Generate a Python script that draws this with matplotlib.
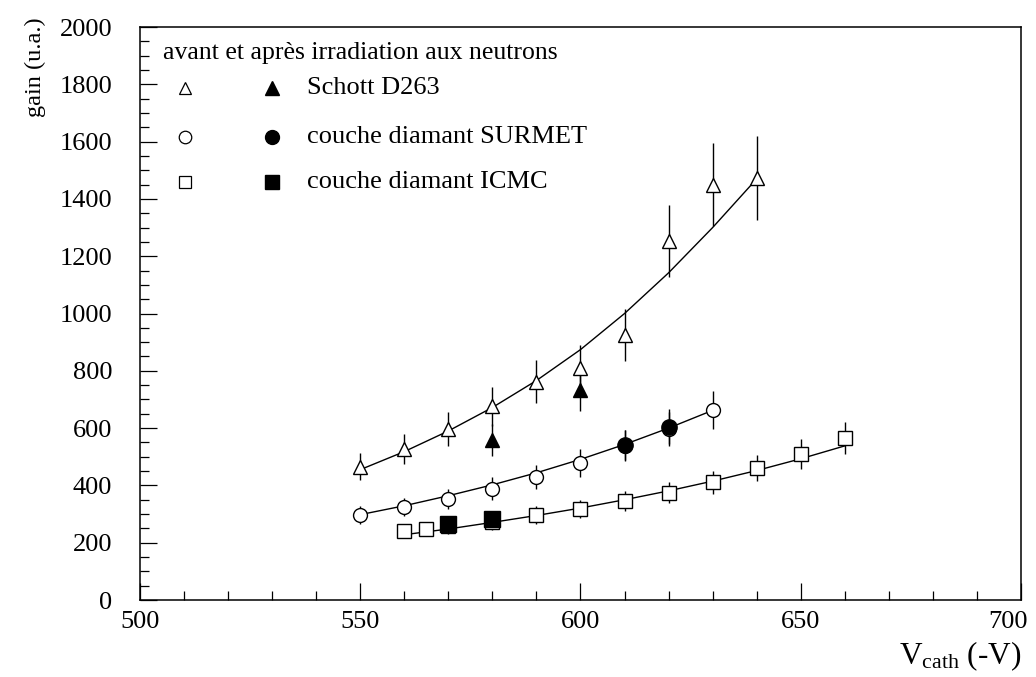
import numpy as np
import matplotlib
matplotlib.use("Agg")
import matplotlib.pyplot as plt
from matplotlib.ticker import MultipleLocator
import matplotlib.transforms as mtransforms

plt.rcParams['font.family'] = ['Liberation Serif', 'DejaVu Serif']
plt.rcParams['mathtext.fontset'] = 'custom'
plt.rcParams['mathtext.rm'] = 'Liberation Serif'
plt.rcParams['mathtext.it'] = 'Liberation Serif:italic'

# Schott D263 : avant (open) / apres (filled)
v_schott = [550, 560, 570, 580, 590, 600, 610, 620, 630, 640]
g_schott = [465, 528, 597, 677, 762, 809, 925, 1253, 1449, 1473]
e_schott = [47, 53, 60, 68, 76, 81, 92, 126, 145, 148]
v_schott_irr = [580, 600]
g_schott_irr = [558, 733]
e_schott_irr = [56, 73]

# couche diamant SURMET
v_surmet = [550, 560, 570, 580, 590, 600, 610, 620, 630]
g_surmet = [297, 324, 354, 389, 430, 479, 538, 598, 663]
e_surmet = [30, 32, 35, 39, 43, 48, 54, 60, 66]
v_surmet_irr = [610, 620]
g_surmet_irr = [541, 605]
e_surmet_irr = [54, 61]

# couche diamant ICMC
v_icmc = [560, 565, 570, 580, 590, 600, 610, 620, 630, 640, 650, 660]
g_icmc = [242, 248, 258, 272, 297, 317, 346, 375, 411, 461, 510, 565]
e_icmc = [24, 25, 26, 27, 30, 32, 35, 38, 41, 46, 51, 57]
v_icmc_irr = [570, 580]
g_icmc_irr = [265, 282]
e_icmc_irr = [26, 28]

# fitted curves
v_fit_schott = [550, 560, 570, 580, 590, 600, 610, 620, 630, 640]
g_fit_schott = [455, 518, 590, 672, 766, 874, 1000, 1142, 1300, 1470]
v_fit_surmet = [550, 560, 570, 580, 590, 600, 610, 620, 630]
g_fit_surmet = [298, 329, 364, 402, 444, 491, 543, 600, 662]
v_fit_icmc = [560, 570, 580, 590, 600, 610, 620, 630, 640, 650, 660]
g_fit_icmc = [228, 248, 271, 295, 321, 350, 381, 415, 452, 493, 538]

fig = plt.figure(figsize=(10.36, 6.77), dpi=100)
ax = fig.add_axes([0.1351, 0.1137, 0.8504, 0.8464])

for vf, gf in [(v_fit_schott, g_fit_schott), (v_fit_surmet, g_fit_surmet), (v_fit_icmc, g_fit_icmc)]:
    ax.plot(vf, gf, color='black', lw=1.0, zorder=2)

ebkw = dict(ls='none', ecolor='black', elinewidth=1.0, capsize=0, zorder=3)
ax.errorbar(v_schott, g_schott, yerr=e_schott, marker='^', ms=10, mfc='white', mec='black', mew=1.0, **ebkw)
ax.errorbar(v_surmet, g_surmet, yerr=e_surmet, marker='o', ms=10, mfc='white', mec='black', mew=1.0, **ebkw)
ax.errorbar(v_icmc, g_icmc, yerr=e_icmc, marker='s', ms=9.5, mfc='white', mec='black', mew=1.0, **ebkw)
ax.errorbar(v_schott_irr, g_schott_irr, yerr=e_schott_irr, marker='^', ms=10.5, mfc='black', mec='black', **ebkw)
ax.errorbar(v_surmet_irr, g_surmet_irr, yerr=e_surmet_irr, marker='o', ms=11, mfc='black', mec='black', **ebkw)
ax.errorbar(v_icmc_irr, g_icmc_irr, yerr=e_icmc_irr, marker='s', ms=11, mfc='black', mec='black', **ebkw)

ax.set_xlim(500, 700)
ax.set_ylim(0, 2000)
ax.xaxis.set_major_locator(MultipleLocator(50))
ax.xaxis.set_minor_locator(MultipleLocator(10))
ax.yaxis.set_major_locator(MultipleLocator(200))
ax.yaxis.set_minor_locator(MultipleLocator(50))
ax.tick_params(which='both', direction='in', top=False, right=False, width=0.9, labelsize=19)
ax.tick_params(axis='x', which='major', length=12, pad=8)
ax.tick_params(axis='x', which='minor', length=6.5)
ax.tick_params(axis='y', which='major', length=12, pad=20)
ax.tick_params(axis='y', which='minor', length=6.5)
for s in ax.spines.values():
    s.set_linewidth(1.1)

# the 700 label sits a bit to the left so it stays inside the picture
fig.canvas.draw()
for t in ax.xaxis.get_major_ticks():
    if abs(t.get_loc() - 700) < 1e-6:
        lbl = t.label1
        lbl.set_transform(lbl.get_transform() + mtransforms.ScaledTranslation(-0.13, 0, fig.dpi_scale_trans))

# legend drawn by hand, as in the original
ax.text(0.026, 0.955, 'avant et après irradiation aux neutrons', transform=ax.transAxes,
        fontsize=18.5, va='center', ha='left')
rows = [('^', 'Schott D263', 0.893), ('o', 'couche diamant SURMET', 0.808),
        ('s', 'couche diamant ICMC', 0.730)]
for mk, label, yy in rows:
    ax.plot([0.051], [yy], marker=mk, ms=9, mfc='white', mec='black', mew=0.9,
            transform=ax.transAxes, ls='none')
    ax.plot([0.150], [yy], marker=mk, ms=10, mfc='black', mec='black',
            transform=ax.transAxes, ls='none')
    ax.text(0.190, yy, label, transform=ax.transAxes, fontsize=19, va='center', ha='left')

fig.text(0.034, 0.975, 'gain (u.a.)', rotation=90, fontsize=17.5, va='top', ha='center')
fig.text(0.9855, 0.006, r'V$_{\mathrm{cath}}$ (-V)', fontsize=22.5, va='bottom', ha='right')

fig.savefig('out.png', dpi=100)
